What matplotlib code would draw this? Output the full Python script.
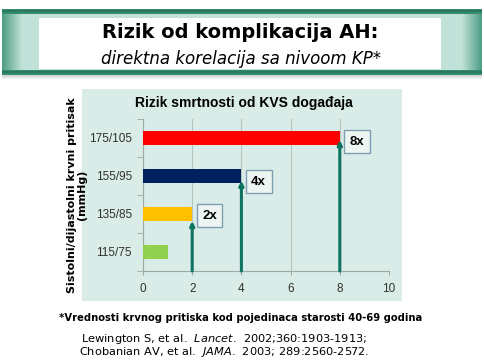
import numpy as np
import matplotlib
matplotlib.use("Agg")
import matplotlib.pyplot as plt
from matplotlib.patches import Rectangle

plt.rcParams.update({
    "font.family": "DejaVu Sans",
    "mathtext.fontset": "custom",
    "mathtext.rm": "DejaVu Sans",
    "mathtext.it": "DejaVu Sans:italic",
})

# ── data ──────────────────────────────────────────────────────────────────────
categories = ["115/75", "135/85", "155/95", "175/105"]
risk = [1, 2, 4, 8]
bar_colors = ["#92d050", "#ffc000", "#002060", "#ff0000"]
arrow_vals = [2, 4, 8]
arrow_tips = [0.82, 1.88, 2.95]
labels = ["2x", "4x", "8x"]
label_y = [0.95, 1.85, 2.9]
xticks = [0, 2, 4, 6, 8, 10]

W, H = 484, 364
fig = plt.figure(figsize=(W / 100, H / 100), dpi=100)
fig.patch.set_facecolor("white")


def fx(px):
    return px / W


def fy(py):
    return 1 - py / H


# ── title banner ─────────────────────────────────────────────────────────────
dark = np.array([0.20, 0.55, 0.44])
light = np.array([0.76, 0.89, 0.85])
bw, bh = 480, 70
img = np.tile(light, (bh, bw, 1))
ramp = np.clip(np.arange(bw) / 20.0, 0, 1)
ramp = np.minimum(ramp, ramp[::-1])
for i in range(bw):
    img[:, i] = dark * (1 - ramp[i]) * 0.8 + light * (0.2 + 0.8 * ramp[i]) if ramp[i] < 1 else light
img[0:5] = dark
img[1:3] = dark * 0.85
img[61:66] = dark
img[62:64] = dark * 0.85
img[66:] = np.array([0.85, 0.85, 0.85])
img[68:] = np.array([0.93, 0.93, 0.93])
bax = fig.add_axes([fx(2), fy(9 + bh), fx(bw), bh / H])
bax.imshow(img, aspect="auto", interpolation="bilinear")
bax.axis("off")
fig.patches.append(Rectangle((fx(39), fy(69)), fx(402), 51 / H,
                             transform=fig.transFigure, facecolor="white",
                             edgecolor="none", zorder=2))
fig.text(fx(240), fy(33), "Rizik od komplikacija AH:", ha="center", va="center",
         fontsize=14, fontweight="bold", zorder=3)
fig.text(fx(241), fy(59), "direktna korelacija sa nivoom KP*", ha="center",
         va="center", fontsize=12, style="italic", zorder=3)

# ── chart panel ──────────────────────────────────────────────────────────────
fig.patches.append(Rectangle((fx(82), fy(301)), fx(320), 212 / H,
                             transform=fig.transFigure, facecolor="#d9ece7",
                             edgecolor="none", zorder=-1))
fig.text(fx(244), fy(103), "Rizik smrtnosti od KVS događaja", ha="center",
         va="center", fontsize=10, fontweight="bold", family="Liberation Sans")

ax = fig.add_axes([fx(143), fy(271), fx(246), 152 / H])
ax.set_facecolor("none")
y = np.arange(len(categories))
ax.barh(y, risk, height=0.38, color=bar_colors, zorder=3)
ax.set_xlim(0, 10)
ax.set_ylim(-0.5, 3.5)
ax.set_xticks(xticks)
ax.set_yticks(y)
ax.set_yticklabels(categories)
ax.set_yticks(np.arange(-0.5, 3.6, 1), minor=True)
ax.tick_params(axis="y", which="major", length=0, pad=8)
ax.tick_params(axis="y", which="minor", length=4, color="#a0a8a6")
ax.tick_params(axis="x", length=3, color="#a0a8a6", pad=6)
for lab in ax.get_xticklabels() + ax.get_yticklabels():
    lab.set_family("Liberation Sans")
    lab.set_fontsize(8.5)
    lab.set_color("#303030")
ax.grid(axis="x", color="#b8c4c0", linewidth=0.8, zorder=0)
for s in ["top", "right"]:
    ax.spines[s].set_visible(False)
ax.spines["left"].set_color("#a0a8a6")
ax.spines["bottom"].set_color("#a0a8a6")

for v, tip, lab, ly in zip(arrow_vals, arrow_tips, labels, label_y):
    ax.annotate("", xy=(v, tip), xytext=(v, -0.5),
                arrowprops=dict(arrowstyle="-|>,head_width=0.12,head_length=0.25",
                                color="#0e7360", lw=2.2, shrinkA=0, shrinkB=0),
                zorder=4)
    ax.text(v + 0.7, ly, lab, ha="center", va="center", fontsize=9.5,
            fontweight="bold", family="Liberation Sans", zorder=5,
            bbox=dict(boxstyle="square,pad=0.42", facecolor="#edf5f3",
                      edgecolor="#7f9eb0", linewidth=1))

fig.text(fx(77), fy(195), "Sistolni/dijastolni krvni pritisak\n(mmHg)",
         rotation=90, ha="center", va="center", fontsize=8,
         fontweight="bold", linespacing=1.1)

# ── footnotes ────────────────────────────────────────────────────────────────
fig.text(fx(241), fy(318), "*Vrednosti krvnog pritiska kod pojedinaca starosti 40-69 godina",
         ha="center", va="center", fontsize=7.2, fontweight="bold")
fig.text(fx(224), fy(339), r"Lewington S, et al.  $\it{Lancet}$.  2002;360:1903-1913;",
         ha="center", va="center", fontsize=8.2)
fig.text(fx(224), fy(352), r"Chobanian AV, et al.  $\it{JAMA}$.  2003; 289:2560-2572.",
         ha="center", va="center", fontsize=8.2)

fig.savefig("out.png", dpi=100)
